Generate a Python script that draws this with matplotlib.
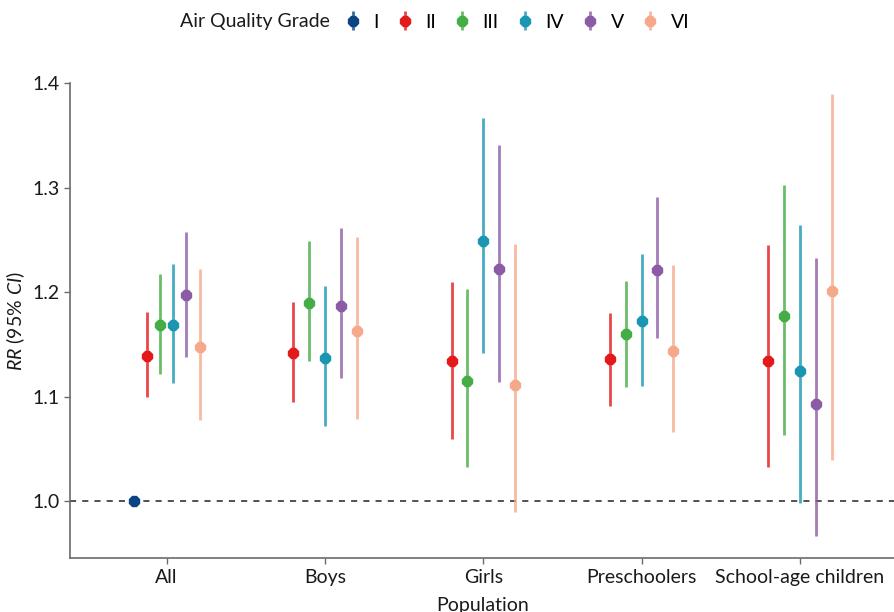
import matplotlib.pyplot as plt
import matplotlib as mpl

plt.rcParams['font.family'] = ['Lato', 'DejaVu Sans']
plt.rcParams['mathtext.fontset'] = 'custom'
plt.rcParams['mathtext.it'] = 'Lato:italic'
plt.rcParams['mathtext.rm'] = 'Lato'

populations = ['All', 'Boys', 'Girls', 'Preschoolers', 'School-age children']
grades = ['I', 'II', 'III', 'IV', 'V', 'VI']
colors = ['#0a4485', '#e3191c', '#45ad45', '#1a96b2', '#8c5ba5', '#f5a98b']

# RR and 95% CI per grade, one value per population (None = not estimated)
rr = {
    'I':   [1.000, None, None, None, None],
    'II':  [1.139, 1.142, 1.134, 1.136, 1.134],
    'III': [1.169, 1.190, 1.115, 1.160, 1.177],
    'IV':  [1.169, 1.137, 1.249, 1.172, 1.125],
    'V':   [1.197, 1.187, 1.222, 1.221, 1.093],
    'VI':  [1.148, 1.163, 1.111, 1.144, 1.201],
}
lower = {
    'I':   [0.999, None, None, None, None],
    'II':  [1.100, 1.095, 1.060, 1.091, 1.033],
    'III': [1.122, 1.134, 1.033, 1.109, 1.063],
    'IV':  [1.113, 1.072, 1.142, 1.110, 0.998],
    'V':   [1.138, 1.118, 1.114, 1.156, 0.967],
    'VI':  [1.078, 1.079, 0.990, 1.066, 1.039],
}
upper = {
    'I':   [1.001, None, None, None, None],
    'II':  [1.181, 1.191, 1.210, 1.180, 1.245],
    'III': [1.217, 1.249, 1.203, 1.211, 1.303],
    'IV':  [1.227, 1.206, 1.367, 1.237, 1.264],
    'V':   [1.258, 1.261, 1.341, 1.291, 1.233],
    'VI':  [1.222, 1.253, 1.246, 1.226, 1.390],
}

dodge = 0.5

fig = plt.figure(figsize=(8.95, 6.12), dpi=100)
ax = fig.add_axes([0.078, 0.088, 0.922, 0.776])

ax.axhline(1.0, color='#222222', lw=1.1, ls=(0, (4, 4)), zorder=1)

handles = []
for g, c in zip(grades, colors):
    xs, ys, errs_lo, errs_hi = [], [], [], []
    for j, pop in enumerate(populations):
        if rr[g][j] is None:
            continue
        present = [k for k in grades if rr[k][j] is not None]
        n = len(present)
        i = present.index(g)
        xs.append(j + (i - (n - 1) / 2) * dodge / n)
        ys.append(rr[g][j])
        errs_lo.append(rr[g][j] - lower[g][j])
        errs_hi.append(upper[g][j] - rr[g][j])
    h = ax.errorbar(xs, ys, yerr=[errs_lo, errs_hi], fmt='8', color=c,
                    ecolor=mpl.colors.to_rgba(c, 0.8), elinewidth=2.0,
                    markersize=8, capsize=0, zorder=3)
    handles.append(h)

ax.set_xlim(-0.611, 4.60)
ax.set_ylim(0.9455, 1.4)
ax.set_xticks(range(len(populations)))
ax.set_xticklabels(populations)
ax.set_yticks([1.0, 1.1, 1.2, 1.3, 1.4])
ax.set_yticklabels(['1.0', '1.1', '1.2', '1.3', '1.4'])

for s in ['top', 'right']:
    ax.spines[s].set_visible(False)
for s in ['left', 'bottom']:
    ax.spines[s].set_color('#6b6b6b')
    ax.spines[s].set_linewidth(1.2)
ax.tick_params(colors='#6b6b6b', labelcolor='#1a1a1a', labelsize=14,
               length=4, width=1)

ax.set_xlabel('Population', fontsize=14, color='#1a1a1a', labelpad=8)
ax.set_ylabel(r'$\mathit{RR}$ (95% $\mathit{CI}$)', fontsize=14,
              color='#1a1a1a')
ax.yaxis.set_label_coords(-0.052, 0.5)

fig.text(330 / 895, 1 - 22 / 612, 'Air Quality Grade', fontsize=14,
         color='#1a1a1a', va='center', ha='right')
fig.legend(handles, grades, loc='center left',
           bbox_to_anchor=(341 / 895, 1 - 22 / 612), ncol=6, frameon=False,
           fontsize=14, handlelength=1.2, handletextpad=0.45,
           columnspacing=0.75, borderaxespad=0, borderpad=0)

fig.savefig('out.png', dpi=100)
